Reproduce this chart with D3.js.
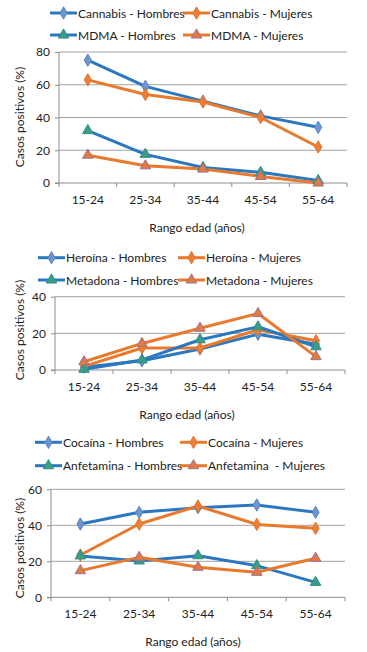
<!DOCTYPE html>
<html>
<head>
<meta charset="utf-8">
<script src="https://cdn.jsdelivr.net/npm/d3@7"></script>
<style>
  body { margin: 0; background: #fff; }
  svg text { font-family: Lato, "Open Sans", sans-serif; fill: #222; }
</style>
</head>
<body>
<svg id="chart" width="367" height="652"></svg>
<script>
'use strict';

// age groups on the x axis
var ageGroups = ['15-24', '25-34', '35-44', '45-54', '55-64'];

// panel 1
var cannabisHombres = [75, 59, 50, 41, 34];
var cannabisMujeres = [63, 54, 49.5, 40, 22];
var mdmaHombres = [32, 17.5, 9.5, 6.5, 1.5];
var mdmaMujeres = [17, 10.5, 8.5, 4, 0];

// panel 2
var heroinaHombres = [1.5, 5, 11.5, 19.5, 14];
var heroinaMujeres = [2, 12, 12, 22, 16];
var metadonaHombres = [0.4, 5.5, 16.5, 23.6, 12.7];
var metadonaMujeres = [4.5, 14.5, 22.8, 30.8, 7.3];

// panel 3
var cocainaHombres = [40.7, 47.2, 49.8, 51.3, 47.2];
var cocainaMujeres = [23.5, 40.7, 50.7, 40.5, 38.3];
var anfetaminaHombres = [23, 20.2, 23.1, 17.6, 8.3];
var anfetaminaMujeres = [14.8, 22.2, 16.7, 13.9, 21.7];

var yTicks1 = [0, 20, 40, 60, 80];
var yTicks2 = [0, 20, 40];
var yTicks3 = [0, 20, 40, 60];

var yTitle = 'Casos positivos (%)';
var xTitle = 'Rango edad (a\u00f1os)';

var BLUE = '#2b78c0', ORANGE = '#e9792c';
var styles = {
  hDiamond: { line: BLUE, fill: '#6d95cf', stroke: '#5a86c4', shape: d3.symbolDiamond },
  mDiamond: { line: ORANGE, fill: '#ec7f35', stroke: '#e0742a', shape: d3.symbolDiamond },
  hTri: { line: BLUE, fill: '#3a9e86', stroke: '#2f8e8a', shape: d3.symbolTriangle },
  mTri: { line: ORANGE, fill: '#e27b3e', stroke: '#a07095', shape: d3.symbolTriangle }
};

var panels = [
  {
    x0: 59, x1: 347, yTop: 52, yBot: 183, max: 80, ticks: yTicks1,
    yTitleY: 117, xTitleX: 197,
    legendRows: [13, 35], legendCols: [50, 183],
    series: [
      { name: 'Cannabis - Hombres', values: cannabisHombres, st: 'hDiamond', pos: [0, 0] },
      { name: 'Cannabis - Mujeres', values: cannabisMujeres, st: 'mDiamond', pos: [0, 1] },
      { name: 'MDMA - Hombres', values: mdmaHombres, st: 'hTri', pos: [1, 0] },
      { name: 'MDMA - Mujeres', values: mdmaMujeres, st: 'mTri', pos: [1, 1] }
    ]
  },
  {
    x0: 55, x1: 345, yTop: 296.7, yBot: 370, max: 40, ticks: yTicks2,
    yTitleY: 330, xTitleX: 187,
    legendRows: [257.7, 280], legendCols: [38, 178],
    series: [
      { name: 'Hero\u00edna - Hombres', values: heroinaHombres, st: 'hDiamond', pos: [0, 0] },
      { name: 'Hero\u00edna - Mujeres', values: heroinaMujeres, st: 'mDiamond', pos: [0, 1] },
      { name: 'Metadona - Hombres', values: metadonaHombres, st: 'hTri', pos: [1, 0] },
      { name: 'Metadona - Mujeres', values: metadonaMujeres, st: 'mTri', pos: [1, 1] }
    ]
  },
  {
    x0: 51, x1: 345, yTop: 489.3, yBot: 597.3, max: 60, ticks: yTicks3,
    yTitleY: 548, xTitleX: 193,
    legendRows: [442.3, 465.7], legendCols: [35, 180],
    series: [
      { name: 'Coca\u00edna - Hombres', values: cocainaHombres, st: 'hDiamond', pos: [0, 0] },
      { name: 'Coca\u00edna - Mujeres', values: cocainaMujeres, st: 'mDiamond', pos: [0, 1] },
      { name: 'Anfetamina - Hombres', values: anfetaminaHombres, st: 'hTri', pos: [1, 0] },
      { name: 'Anfetamina  - Mujeres', values: anfetaminaMujeres, st: 'mTri', pos: [1, 1] }
    ]
  }
];

var svg = d3.select('#chart');

function symbolPath(st) {
  var s = styles[st];
  var size = s.shape === d3.symbolTriangle ? 48 : 44;
  return d3.symbol().type(s.shape).size(size)();
}

panels.forEach(function(p) {
  var g = svg.append('g');

  var x = d3.scaleBand().domain(ageGroups).range([p.x0, p.x1]);
  var y = d3.scaleLinear().domain([0, p.max]).range([p.yBot, p.yTop]);

  // horizontal grid
  g.append('g')
    .selectAll('line')
    .data(p.ticks.filter(function(t) { return t > 0; }))
    .enter().append('line')
    .attr('x1', p.x0).attr('x2', p.x1)
    .attr('y1', function(d) { return y(d); })
    .attr('y2', function(d) { return y(d); })
    .attr('stroke', '#a3a3a3').attr('stroke-width', 1);

  // y axis
  var yAxis = g.append('g')
    .attr('transform', 'translate(' + p.x0 + ',0)')
    .call(d3.axisLeft(y).tickValues(p.ticks).tickSize(4).tickPadding(5));
  yAxis.selectAll('path, line').attr('stroke', '#8e8e8e');
  yAxis.select('.domain').attr('d', 'M0,' + p.yTop + 'V' + p.yBot);
  yAxis.selectAll('text').attr('font-size', 12).style('font-family', 'Lato, sans-serif').attr('fill', '#222');

  // x axis: baseline plus ticks at category boundaries
  var bounds = ageGroups.map(function(a) { return x(a); }).concat([p.x1]);
  g.append('line')
    .attr('x1', p.x0 - 4).attr('x2', p.x1)
    .attr('y1', p.yBot).attr('y2', p.yBot)
    .attr('stroke', '#8e8e8e');
  g.append('g').selectAll('line')
    .data(bounds)
    .enter().append('line')
    .attr('x1', function(d) { return d; }).attr('x2', function(d) { return d; })
    .attr('y1', p.yBot).attr('y2', p.yBot + 4)
    .attr('stroke', '#8e8e8e');
  g.append('g').selectAll('text')
    .data(ageGroups)
    .enter().append('text')
    .attr('x', function(d) { return x(d) + x.bandwidth() / 2; })
    .attr('y', p.yBot + 21)
    .attr('text-anchor', 'middle')
    .attr('font-size', 12)
    .text(function(d) { return d; });

  // axis titles
  g.append('text')
    .attr('transform', 'translate(24,' + p.yTitleY + ') rotate(-90)')
    .attr('text-anchor', 'middle')
    .attr('font-size', 12)
    .text(yTitle);
  g.append('text')
    .attr('x', p.xTitleX).attr('y', p.yBot + 49)
    .attr('text-anchor', 'middle')
    .attr('font-size', 12)
    .text(xTitle);

  // lines
  var line = d3.line()
    .x(function(d, i) { return x(ageGroups[i]) + x.bandwidth() / 2; })
    .y(function(d) { return y(d); });

  p.series.forEach(function(s) {
    g.append('path')
      .datum(s.values)
      .attr('d', line)
      .attr('fill', 'none')
      .attr('stroke', styles[s.st].line)
      .attr('stroke-width', 3)
      .attr('stroke-linejoin', 'round');
  });
  p.series.forEach(function(s) {
    g.append('g').selectAll('path')
      .data(s.values)
      .enter().append('path')
      .attr('d', symbolPath(s.st))
      .attr('transform', function(d, i) {
        return 'translate(' + (x(ageGroups[i]) + x.bandwidth() / 2) + ',' + y(d) + ')';
      })
      .attr('fill', styles[s.st].fill)
      .attr('stroke', styles[s.st].stroke)
      .attr('stroke-width', 1);
  });

  // legend
  p.series.forEach(function(s) {
    var ly = p.legendRows[s.pos[0]], lx = p.legendCols[s.pos[1]];
    var lg = g.append('g').attr('transform', 'translate(' + lx + ',' + ly + ')');
    lg.append('line')
      .attr('x1', 0).attr('x2', 27).attr('y1', 0).attr('y2', 0)
      .attr('stroke', styles[s.st].line).attr('stroke-width', 3);
    lg.append('path')
      .attr('d', symbolPath(s.st))
      .attr('transform', 'translate(13.5,0)')
      .attr('fill', styles[s.st].fill)
      .attr('stroke', styles[s.st].stroke);
    lg.append('text')
      .attr('x', 28).attr('y', 4.5)
      .attr('font-size', 12)
      .style('white-space', 'pre')
      .text(s.name);
  });
});
</script>
</body>
</html>
